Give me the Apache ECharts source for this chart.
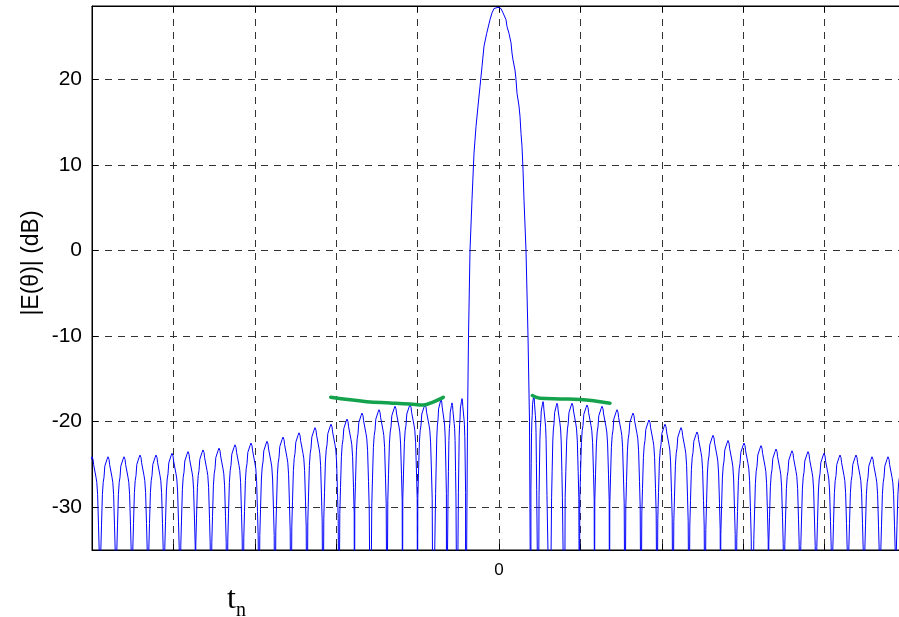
<!DOCTYPE html>
<html><head><meta charset="utf-8">
<script src="https://cdn.jsdelivr.net/npm/echarts@6/dist/echarts.min.js"></script>
<style>html,body{margin:0;padding:0;background:#fff}#c{width:899px;height:617px}</style>
</head><body><div id="c"></div>
<script>
// x is measured in offsets from the "0" tick; grid lines are 81.4 apart
const xStep = 81.4;
const xMin = -407, xMax = 407;
const xTickLabels = ['0'];
const yTickValues = [-30, -20, -10, 0, 10, 20];
const yMin = -35, yMax = 28.6;

// side lobes left of the main beam: centre, peak level (dB), relative width
const leftLobeX  = [-407,-391,-375,-359,-343,-327,-311,-296,-280,-264,-248,-232,-216,-200,-184,-168,-152,-137,-120,-104,-89,-74,-58,-47,-37];
const leftLobeDb = [-24.1,-24.1,-24.1,-23.9,-23.9,-23.7,-23.5,-23.3,-23.1,-22.7,-22.5,-22.3,-21.8,-21.3,-20.7,-20.3,-19.7,-19.0,-18.6,-18.2,-18.0,-18.0,-17.4,-17.8,-17.3];
const leftLobeW  = [1,1,1,1,1,1,1,1,1,1,1,1,1,1,1,1,1,1,1,1,1,1,0.75,0.55,0.5];
// side lobes right of the main beam
const rightLobeX  = [34.8,44,58,73,88,103,118,134,150,166,182,198,214,229,245,262,277,293,309,325,341,357,373,389,404.5];
const rightLobeDb = [-16.9,-17.65,-17.85,-17.85,-18.05,-18.2,-18.6,-19.0,-19.8,-20.3,-20.7,-21.2,-21.6,-22.2,-22.5,-22.8,-23.2,-23.4,-23.5,-23.7,-23.9,-23.9,-24.1,-24.1,-24.1];
const rightLobeW  = [0.4,0.55,0.75,0.95,1,1,1,1,1,1,1,1,1,1,1,1,1,1,1,1,1,1,1,1,1];
// shape of one side lobe (offset, dB below its peak)
const lobeShapeDx = [-7.2,-6.5,-5.6,-4.8,-4.0,-3.2,-1.6,-1.0,0,1.0,1.6,3.2,4.0,4.8,5.6,6.5,7.2];
const lobeShapeDb = [-11,-8,-4.4,-3,-2.4,-1.1,-0.9,-0.3,0,-0.3,-0.9,-1.1,-2.4,-3,-4.4,-8,-11];
const nullDb = -48;
// main beam
const mainLobeX  = [-33.5,-32.5,-31.5,-30.5,-29,-27,-25,-23,-21,-19,-17,-15,-12.3,-9,-7,-5,-1,2,4,7,8,10,12,13,14,16,17,18,20,21,22,23,24,25,27,29,30.5,31.3,32];
const mainLobeDb = [-48,-38,-20,-10,0,6,11.4,14.5,16.9,19.2,21.5,23.9,25.4,27,27.8,28.3,28.45,28.3,27.8,27.0,26.2,25.4,24.3,23.1,22.3,21.1,20.0,18.4,16.9,15.7,13.7,12.2,9.5,5.9,0,-10,-20,-38,-48];
// green hand-drawn envelope marks
const greenLeftX  = [-168.3,-132.3,-109,-89,-75.7,-66,-55.7];
const greenLeftDb = [-17.15,-17.66,-17.8,-17.93,-18.05,-17.7,-17.15];
const greenRightX  = [33.3,41,61,81,96,111];
const greenRightDb = [-16.94,-17.26,-17.34,-17.4,-17.58,-17.85];

function lobePoints(cx, pk, w) {
  return lobeShapeDx.map((d, k) => [cx + d * w, pk + lobeShapeDb[k]]);
}
const blue = [];
leftLobeX.forEach((c, i) => {
  if (i > 0) blue.push([(leftLobeX[i - 1] + c) / 2, nullDb]);
  blue.push(...lobePoints(c, leftLobeDb[i], leftLobeW[i]));
});
mainLobeX.forEach((x, i) => blue.push([x, mainLobeDb[i]]));
rightLobeX.forEach((c, i) => {
  if (i > 0) blue.push([(rightLobeX[i - 1] + c) / 2, nullDb]);
  blue.push(...lobePoints(c, rightLobeDb[i], rightLobeW[i]));
});
const pairs = (xs, ys) => xs.map((x, i) => [x, ys[i]]);

const chart = echarts.init(document.getElementById('c'), null, {renderer: 'canvas'});
const dash = [7, 6];
chart.setOption({
  animation: false,
  backgroundColor: '#fff',
  grid: {left: 92, top: 6, right: -7, bottom: 67, outerBoundsMode: 'none', containLabel: false,
    show: true, borderColor: '#000', borderWidth: 1, backgroundColor: '#fff'},
  xAxis: [{
    type: 'value', min: xMin, max: xMax, minInterval: xStep, maxInterval: xStep, position: 'bottom',
    axisLine: {show: true, onZero: false, lineStyle: {color: '#000', width: 1}},
    axisTick: {show: true, inside: true, length: 6, lineStyle: {color: '#000'}},
    axisLabel: {color: '#000', fontSize: 17, fontFamily: 'Liberation Sans', margin: 12,
      formatter: v => (Math.abs(v) < 1e-6 ? xTickLabels[0] : '')},
    splitLine: {show: true, lineStyle: {color: '#333', width: 1, type: dash}}
  }, {
    type: 'value', min: xMin, max: xMax, minInterval: xStep, maxInterval: xStep, position: 'top',
    axisLine: {show: true, onZero: false, lineStyle: {color: '#000'}},
    axisTick: {show: true, inside: true, length: 6, lineStyle: {color: '#000'}},
    axisLabel: {show: false}, splitLine: {show: false}
  }],
  yAxis: [{
    type: 'value', min: yMin, max: yMax, minInterval: 10, maxInterval: 10,
    axisLine: {show: true, onZero: false, lineStyle: {color: '#000', width: 1}},
    axisTick: {show: true, inside: true, length: 6, lineStyle: {color: '#000'}},
    axisLabel: {color: '#000', fontSize: 21, fontFamily: 'Liberation Sans', margin: 10,
      formatter: v => (yTickValues.indexOf(Math.round(v * 1000) / 1000) >= 0 ? String(Math.round(v)) : '')},
    splitLine: {show: true, lineStyle: {color: '#333', width: 1, type: dash}}
  }],
  series: [{
    type: 'line', data: blue, symbol: 'none', clip: true,
    lineStyle: {color: '#0000ff', width: 1}
  }, {
    type: 'line', data: pairs(greenLeftX, greenLeftDb), symbol: 'none', smooth: 0.4,
    lineStyle: {color: '#14a24c', width: 3.5, cap: 'round'}
  }, {
    type: 'line', data: pairs(greenRightX, greenRightDb), symbol: 'none', smooth: 0.4,
    lineStyle: {color: '#14a24c', width: 3.5, cap: 'round'}
  }],
  graphic: [{
    type: 'text', x: 32, y: 263, rotation: Math.PI / 2,
    style: {text: '|E(θ)| (dB)', font: '23px "Liberation Sans"', fill: '#000', align: 'center', verticalAlign: 'middle'}
  }, {
    type: 'text', x: 227, y: 600,
    style: {text: 't', font: '32px "Liberation Serif"', fill: '#000', align: 'left', verticalAlign: 'middle'}
  }, {
    type: 'text', x: 236, y: 611,
    style: {text: 'n', font: '20px "Liberation Serif"', fill: '#000', align: 'left', verticalAlign: 'middle'}
  }]
});
</script>
</body></html>
